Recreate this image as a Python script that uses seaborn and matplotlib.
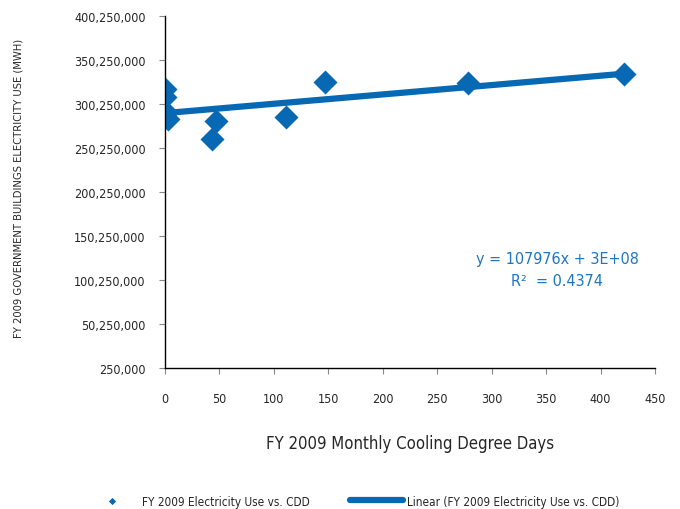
import seaborn as sns
import matplotlib.pyplot as plt
import matplotlib.ticker as mticker
import pandas as pd

# monthly cooling degree days vs electricity use (MWh)
cdd = [0, 0, 0, 0, 0, 3, 43, 47, 111, 147, 278, 422]
use = [317e6, 308e6, 292e6, 289e6, 290e6, 283e6, 261e6, 281e6, 286e6, 325e6, 324e6, 334e6]
y_ticks = [250000 + 50000000 * k for k in range(9)]
x_ticks = list(range(0, 451, 50))

df = pd.DataFrame({'CDD': cdd, 'Use': use})

sns.set_style('white')
plt.rcParams['font.family'] = ['DejaVu Sans']
plt.rcParams['font.stretch'] = 'condensed'

blue = '#0768B3'
fig = plt.figure(figsize=(6.8, 5.1), dpi=100)
ax = fig.add_axes([0.2426, 0.2765, 0.7206, 0.6902])

sns.regplot(data=df, x='CDD', y='Use', ax=ax, ci=None, color=blue,
            marker='D', scatter_kws={'s': 150, 'alpha': 1, 'linewidths': 0},
            line_kws={'lw': 4.5})
ax.collections[0].set_label('FY 2009 Electricity Use vs. CDD')
ax.lines[0].set_label('Linear (FY 2009 Electricity Use vs. CDD)')

ax.set_xlim(0, 450)
ax.set_ylim(250000, 400250000)
ax.set_xticks(x_ticks)
ax.set_yticks(y_ticks)
ax.yaxis.set_major_formatter(mticker.StrMethodFormatter('{x:,.0f}'))
ax.tick_params(axis='both', direction='out', length=4, width=0.8, color='#888888',
               labelsize=9, left=True, bottom=True)
ax.tick_params(axis='x', pad=13)
ax.tick_params(axis='y', pad=10)
sns.despine(ax=ax)
for s in ['left', 'bottom']:
    ax.spines[s].set_color('black')
    ax.spines[s].set_linewidth(1)

ax.set_xlabel('FY 2009 Monthly Cooling Degree Days', fontsize=12, labelpad=21)
ax.set_ylabel('FY 2009 GOVERNMENT BUILDINGS ELECTRICITY USE (MWH)', fontsize=8)
ax.yaxis.set_label_coords(-0.288, 0.514)

ax.text(0.80, 0.28, 'y = 107976x + 3E+08\nR²  = 0.4374', transform=ax.transAxes,
        ha='center', va='center', color='#1F75C0', fontsize=11.5, linespacing=1.6)

fig.legend(loc='lower center', ncol=2, frameon=False, fontsize=8.5,
           bbox_to_anchor=(0.518, -0.018), markerscale=0.3, columnspacing=3.4,
           handlelength=4.5, handletextpad=0.3)

fig.savefig('out.png', dpi=100)
